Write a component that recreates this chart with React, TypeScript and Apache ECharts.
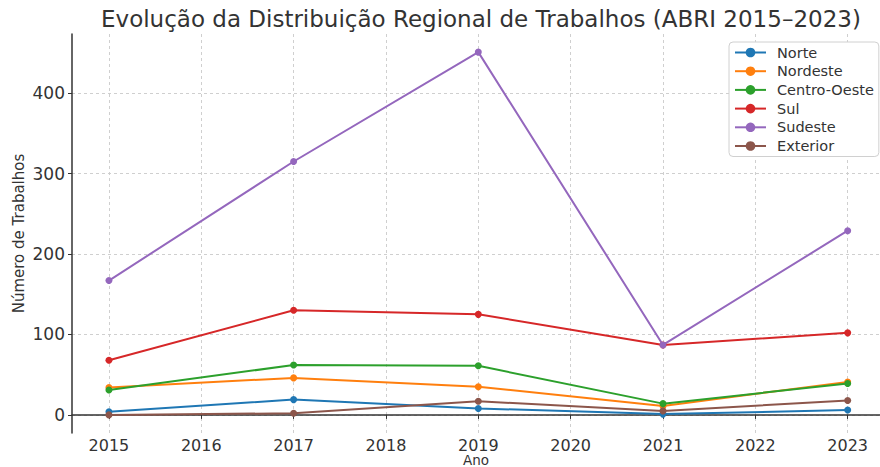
import React, { useEffect, useRef } from "react";
import * as echarts from "echarts";

const years = [2015, 2017, 2019, 2021, 2023];
const norte = [4, 19, 8, 1, 6];
const nordeste = [34, 46, 35, 11, 41];
const centroOeste = [31, 62, 61, 14, 39];
const sul = [68, 130, 125, 87, 102];
const sudeste = [167, 315, 451, 87, 229];
const exterior = [0, 2, 17, 5, 18];

const seriesNames = ["Norte", "Nordeste", "Centro-Oeste", "Sul", "Sudeste", "Exterior"];
const seriesValues = [norte, nordeste, centroOeste, sul, sudeste, exterior];
const colors = ["#1f77b4", "#ff7f0e", "#2ca02c", "#d62728", "#9467bd", "#8c564b"];

const FONT = "DejaVu Sans";

export default function App() {
  const ref = useRef<HTMLDivElement>(null);
  useEffect(() => {
    if (!ref.current) return;
    const chart = echarts.init(ref.current, null, { renderer: "svg" });
    chart.setOption({
      animation: false,
      backgroundColor: "#ffffff",
      title: {
        text: "Evolução da Distribuição Regional de Trabalhos (ABRI 2015–2023)",
        left: 96,
        top: 2,
        textStyle: { fontFamily: FONT, fontSize: 23, fontWeight: "normal", color: "#333" },
      },
      legend: {
        orient: "vertical",
        left: 729,
        top: 42,
        padding: [3, 5, 3, 5],
        itemWidth: 31,
        itemHeight: 12,
        itemGap: 3.7,
        borderColor: "#d0d0d0",
        borderWidth: 1,
        borderRadius: 4,
        backgroundColor: "#ffffff",
        textStyle: { fontFamily: FONT, fontSize: 14.5, lineHeight: 14, color: "#333", padding: [0, 0, 0, 6] },
        data: seriesNames,
      },
      grid: { left: 72, right: 0, top: 34, bottom: 34, outerBoundsMode: "none", containLabel: false },
      xAxis: {
        type: "value",
        min: 2014.6,
        max: 2023.35,
        minInterval: 1,
        maxInterval: 1,
        name: "Ano",
        nameLocation: "middle",
        nameGap: 20.5,
        nameMoveOverlap: false,
        nameTextStyle: { fontFamily: FONT, fontSize: 13.5, lineHeight: 13.5, color: "#333" },
        axisLine: { lineStyle: { color: "#333", width: 1.5 } },
        axisTick: { show: true, length: 4, lineStyle: { color: "#333" } },
        axisLabel: {
          fontFamily: FONT,
          fontSize: 16,
          lineHeight: 16,
          color: "#333",
          margin: 4,
          showMinLabel: false,
          showMaxLabel: false,
          formatter: (v: number) => (Math.abs(v - Math.round(v)) < 1e-6 ? String(Math.round(v)) : ""),
        },
        splitLine: {
          show: true,
          showMinLine: false,
          showMaxLine: false,
          lineStyle: { color: "#cfcfcf", type: [3, 3], width: 1 },
        },
      },
      yAxis: {
        type: "value",
        min: -22.5,
        max: 473.5,
        minInterval: 100,
        maxInterval: 100,
        name: "Número de Trabalhos",
        nameLocation: "middle",
        nameGap: 46,
        nameMoveOverlap: false,
        nameTextStyle: { fontFamily: FONT, fontSize: 15, color: "#333" },
        axisLine: { show: true, lineStyle: { color: "#333", width: 1.5 } },
        axisTick: { show: true, length: 4, lineStyle: { color: "#333" } },
        axisLabel: {
          fontFamily: FONT,
          fontSize: 17,
          color: "#333",
          margin: 7,
          showMinLabel: false,
          showMaxLabel: false,
          formatter: (v: number) => (Math.abs(v % 100) < 1e-6 ? String(v) : ""),
        },
        splitLine: {
          show: true,
          showMinLine: false,
          showMaxLine: false,
          lineStyle: { color: "#cfcfcf", type: [3, 3], width: 1 },
        },
      },
      series: seriesNames.map((name, i) => ({
        name,
        type: "line",
        data: years.map((y, j) => [y, seriesValues[i][j]]),
        symbol: "circle",
        symbolSize: 7,
        itemStyle: { color: colors[i] },
        lineStyle: { color: colors[i], width: 2 },
      })),
    });
    return () => chart.dispose();
  }, []);
  return <div ref={ref} style={{ position: "fixed", left: 0, top: 0, width: 880, height: 467 }} />;
}
